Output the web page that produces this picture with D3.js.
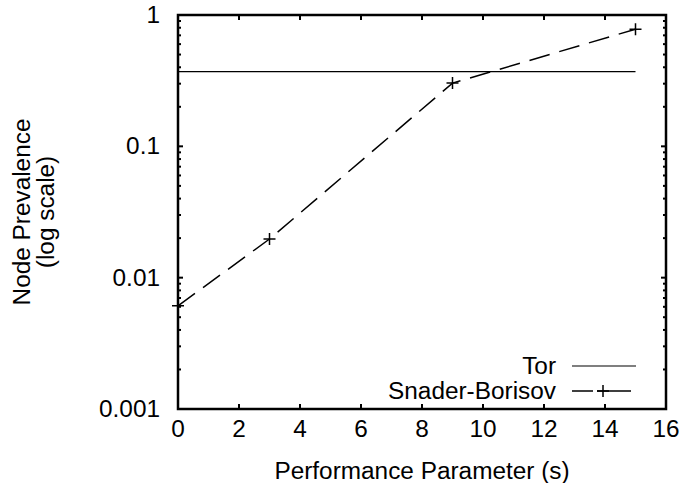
<!DOCTYPE html>
<html>
<head>
<meta charset="utf-8">
<script src="https://cdn.jsdelivr.net/npm/d3@7"></script>
<style>
body { margin: 0; background: #fff; }
text { font-family: "Liberation Sans", Arial, sans-serif; fill: #000; }
</style>
</head>
<body>
<svg id="chart" width="685" height="483"></svg>
<script>
// data
var xTicks = [0, 2, 4, 6, 8, 10, 12, 14, 16];
var yTicks = [0.001, 0.01, 0.1, 1];
var yTickLabels = ["0.001", "0.01", "0.1", "1"];
var torX = [0, 15];
var torY = [0.37, 0.37];
var snaderX = [0, 3, 9, 15];
var snaderY = [0.0061, 0.0197, 0.303, 0.78];

var margin = {left: 178, right: 19, top: 15, bottom: 74};
var W = 685, H = 483;

var svg = d3.select("#chart");

var x = d3.scaleLinear().domain([0, 16]).range([margin.left, W - margin.right]);
var y = d3.scaleLog().domain([0.001, 1]).range([H - margin.bottom, margin.top]);

var fontSize = 23;
var stretch = 1.06;   // the original font is a bit wider than Arial

// text placed at (tx, ty), stretched horizontally
function addText(tx, ty, str, anchor, rot) {
    var t = svg.append("g")
        .attr("transform", "translate(" + tx + "," + ty + ")" + (rot ? " rotate(" + rot + ")" : "") + " scale(" + stretch + ",1)")
        .append("text")
        .attr("text-anchor", anchor)
        .style("font-size", fontSize + "px")
        .text(str);
    return t;
}

// minor ticks for the log axis
var minor = [];
[0.001, 0.01, 0.1].forEach(function(d) {
    for (var k = 2; k <= 9; k++) minor.push(d * k);
});

var g = svg.append("g");

// left and right ticks
function yTicksOn(xpos, dir) {
    g.selectAll(null).data(yTicks).enter().append("line")
        .attr("x1", xpos).attr("x2", xpos + dir * 5)
        .attr("y1", function(d) { return y(d); })
        .attr("y2", function(d) { return y(d); })
        .attr("stroke", "#000").attr("stroke-width", 2);
    g.selectAll(null).data(minor).enter().append("line")
        .attr("x1", xpos).attr("x2", xpos + dir * 3)
        .attr("y1", function(d) { return y(d); })
        .attr("y2", function(d) { return y(d); })
        .attr("stroke", "#000").attr("stroke-width", 2);
}
yTicksOn(x(0), 1);
yTicksOn(x(16), -1);

// top and bottom ticks
function xTicksOn(ypos, dir) {
    g.selectAll(null).data(xTicks).enter().append("line")
        .attr("y1", ypos).attr("y2", ypos + dir * 5)
        .attr("x1", function(d) { return x(d); })
        .attr("x2", function(d) { return x(d); })
        .attr("stroke", "#000").attr("stroke-width", 2);
}
xTicksOn(y(0.001), -1);
xTicksOn(y(1), 1);

// tick labels
xTicks.forEach(function(d) {
    addText(x(d), y(0.001) + 28, d, "middle");
});
yTicks.forEach(function(d, i) {
    addText(x(0) - 18, y(d) + 8, yTickLabels[i], "end");
});

// axis titles
addText((x(0) + x(16)) / 2, 479, "Performance Parameter (s)", "middle");
addText(30, 212, "Node Prevalence", "middle", -90);
addText(54, 212, "(log scale)", "middle", -90);

// series
var line = d3.line()
    .x(function(d) { return x(d[0]); })
    .y(function(d) { return y(d[1]); });

svg.append("path")
    .datum(d3.zip(torX, torY))
    .attr("d", line)
    .attr("fill", "none")
    .attr("stroke", "#000")
    .attr("stroke-width", 1.2);

svg.append("path")
    .datum(d3.zip(snaderX, snaderY))
    .attr("d", line)
    .attr("fill", "none")
    .attr("stroke", "#000")
    .attr("stroke-width", 1.5)
    .attr("stroke-dasharray", "21,10");

function drawPlus(cx, cy) {
    svg.append("path")
        .attr("d", "M" + (cx - 6) + "," + cy + "H" + (cx + 6) + "M" + cx + "," + (cy - 6) + "V" + (cy + 6))
        .attr("stroke", "#000")
        .attr("stroke-width", 1.5);
}
d3.zip(snaderX, snaderY).forEach(function(d) { drawPlus(x(d[0]), y(d[1])); });

// legend
var legend = [
    {name: "Tor", y: 366, dash: null, marker: false},
    {name: "Snader-Borisov", y: 391, dash: "21,4,40", marker: true}
];
legend.forEach(function(l) {
    addText(556, l.y + 8, l.name, "end");
    svg.append("line")
        .attr("x1", 572).attr("x2", l.marker ? 631 : 636)
        .attr("y1", l.y).attr("y2", l.y)
        .attr("stroke", "#000")
        .attr("stroke-width", l.marker ? 1.5 : 1.2)
        .attr("stroke-dasharray", l.dash);
    if (l.marker) drawPlus(603, l.y);
});

// frame
svg.append("rect")
    .attr("x", x(0)).attr("y", y(1))
    .attr("width", x(16) - x(0))
    .attr("height", y(0.001) - y(1))
    .attr("fill", "none")
    .attr("stroke", "#000")
    .attr("stroke-width", 2.5);
</script>
</body>
</html>
